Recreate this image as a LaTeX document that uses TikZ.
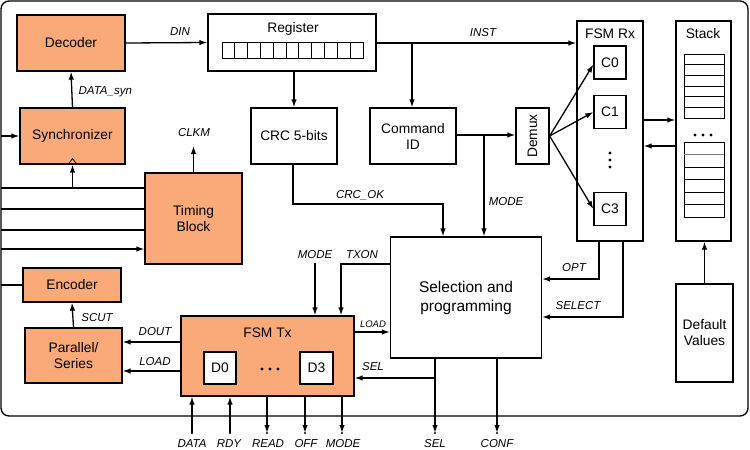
\documentclass[tikz,border=0pt]{standalone}
\usepackage{fontspec}
\setmainfont{Liberation Sans}
\usetikzlibrary{arrows.meta,calc}
\definecolor{orng}{RGB}{249,170,120}
\begin{document}
\begin{tikzpicture}[x=1pt,y=-1pt, line width=1.3pt,
  box/.style={draw, rectangle, inner sep=0pt, align=center, font=\fontsize{13.8}{16}\selectfont},
  obox/.style={box, fill=orng},
  wbox/.style={box, fill=white},
  ttl/.style={inner sep=0pt, font=\fontsize{13.8}{16}\selectfont},
  lbl/.style={font=\fontsize{11.5}{12}\selectfont\itshape, inner sep=0pt},
  slbl/.style={font=\fontsize{9.5}{10}\selectfont\itshape, inner sep=0pt},
  arr/.style={-{Latex[length=8pt,width=5.5pt]}},
  cell/.style={line width=1pt}
]
\useasboundingbox (0,0) rectangle (750,450);
% outer frame
\draw[rounded corners=8pt] (1,1) rectangle (748,416);

% ---------- nodes ----------
\node[obox, minimum width=108, minimum height=56] (dec) at (71,43) {Decoder};
\node[obox, minimum width=105, minimum height=56] (sync) at (72.5,136) {Synchronizer};
\node[obox, minimum width=97, minimum height=91] (timing) at (193.5,218.5) {Timing\\Block};
\node[obox, minimum width=98, minimum height=34] (enc) at (72,285) {Encoder};
\node[obox, minimum width=97, minimum height=55] (par) at (73.5,355.5) {Parallel/\\Series};
\node[obox, minimum width=173, minimum height=80] (fsmtx) at (267.5,356) {};
\node[ttl] (fsmtxt) at (267.5,333) {FSM Tx};
\node[wbox, minimum width=32, minimum height=32] (d0) at (220,368) {D0};
\node[wbox, minimum width=33, minimum height=32] (d3) at (316.5,368) {D3};
\foreach \xx in {262,270,278} \fill (\xx,369) circle (1.7);

\node[box, minimum width=168, minimum height=57] (reg) at (292,42.5) {};
\node[ttl] (regt) at (293,28.5) {Register};
\foreach \i in {0,...,10} \draw[cell] (222+\i*12.82,42) rectangle ++(12.82,16);

\node[box, minimum width=86, minimum height=56] (crc) at (294,136) {CRC 5-bits};
\node[box, minimum width=86, minimum height=56] (cmd) at (413,136) {Command\\ID};
\node[box, minimum width=33, minimum height=56] (demux) at (532.5,136) {};
\node[ttl, rotate=90] (demuxt) at (demux.center) {Demux};

\node[box, minimum width=66, minimum height=220] (fsmrx) at (610,131) {};
\node[ttl] (fsmrxt) at (610,33.5) {FSM Rx};
\node[box, minimum width=32, minimum height=33] (c0) at (610,62.5) {C0};
\node[box, minimum width=32, minimum height=33] (c1) at (610,112) {C1};
\node[box, minimum width=32, minimum height=33] (c3) at (610,209) {C3};
\foreach \yy in {153,160,167} \fill (610,\yy) circle (1.7);

\node[box, minimum width=55, minimum height=220] (stack) at (703.5,131) {};
\node[ttl] (stackt) at (703,33.5) {Stack};
\foreach \i in {0,...,5} \draw[cell] (684,54+\i*10.67) rectangle ++(40,10.67);
\foreach \xx in {695,703,711} \fill (\xx,135) circle (1.6);
\draw[cell] (684,142) rectangle (724,217);
\draw[line width=0.6pt, gray] (684,154.5) -- (724,154.5);
\foreach \i in {2,...,5} \draw[cell] (684,142+\i*12.5) -- (724,142+\i*12.5);

\node[box, minimum width=57, minimum height=98] (defv) at (704.5,333) {Default\\Values};
\node[box, minimum width=151, minimum height=121, font=\fontsize{15.5}{19}\selectfont] (sel) at (466,297.5) {Selection and\\programming};

% ---------- free-end coordinates ----------
\coordinate (insync) at (1,136);
\coordinate (t1) at (1,188);
\coordinate (t2) at (1,209);
\coordinate (t3) at (1,230);
\coordinate (t4) at (1,249);
\coordinate (br1) at (72.5,188);
\coordinate (clkm) at (193.5,146);
\coordinate (inenc) at (1,285);
\coordinate (modein) at (315,263);
\coordinate (txon) at (341,264);
\coordinate (selbr) at (435,378);
\coordinate (selend) at (435,433);
\coordinate (confend) at (497,433);
\coordinate (dataend) at (192,433);
\coordinate (rdyend) at (230,433);
\coordinate (readend) at (267,433);
\coordinate (offend) at (305,433);
\coordinate (modeend) at (342,433);
\coordinate (instbr) at (412,43);
\coordinate (crcc1) at (293,204);
\coordinate (crcc2) at (443,204);
\coordinate (modebr) at (484,135);
\coordinate (optc) at (599,279);
\coordinate (selectc) at (623,317);

% ---------- connectors ----------
\draw[arr] (dec.east) -- (reg.west);
\node[lbl] (dinl) at (180,32) {DIN};
\draw[arr] (sync.north) -- (dec.south);
\node[lbl, anchor=west] (dsynl) at (78,92) {DATA\_syn};
\draw[arr] (insync) -- (sync.west);
\draw (t1) -- (t1 -| timing.west);
\draw (t2) -- (t2 -| timing.west);
\draw (t3) -- (t3 -| timing.west);
\draw[arr] (t4) -- (t4 -| timing.west);
\draw[arr] (br1) -- (sync.south);
\draw[line width=0.8pt] (68.5,164) -- (72.5,158.5) -- (76.5,164);
\draw[arr] (timing.north) -- (clkm);
\node[lbl] (clkml) at (194,133) {CLKM};

\draw (inenc) -- (enc.west);
\draw[arr] (par.north) -- (enc.south);
\node[lbl] (scutl) at (97,318) {SCUT};
\draw[arr] (fsmtx.west |- 0,342) -- (par.east |- 0,342);
\node[lbl] (doutl) at (155,332) {DOUT};
\draw[arr] (fsmtx.west |- 0,371) -- (par.east |- 0,371);
\node[lbl] (loadl) at (155,362) {LOAD};

\draw[arr] (modein) -- (modein |- fsmtx.north);
\node[lbl] (model1) at (315,255) {MODE};
\draw[arr] (sel.west |- txon) -- (txon) -- (txon |- fsmtx.north);
\node[lbl] (txonl) at (362,255) {TXON};
\draw[arr] (fsmtx.east |- 0,332) -- (sel.west |- 0,332);
\node[slbl] (load2l) at (373,324) {LOAD};
\draw[arr] (selbr) -- (selbr -| fsmtx.east);
\node[lbl] (sell1) at (373,367) {SEL};
\draw[arr] (sel.south -| selend) -- (selend);
\draw[arr] (sel.south -| confend) -- (confend);
\node[lbl] (sell2) at (435,444) {SEL};
\node[lbl] (confl) at (497,444) {CONF};

\draw[arr] (dataend) -- (dataend |- fsmtx.south);
\draw[arr] (rdyend) -- (rdyend |- fsmtx.south);
\draw[arr] (readend |- fsmtx.south) -- (readend);
\draw[arr] (offend |- fsmtx.south) -- (offend);
\draw[arr] (modeend |- fsmtx.south) -- (modeend);
\foreach \c in {dataend,rdyend,readend,offend,modeend,selend,confend} \fill (\c) circle (1.2);
\node[lbl] (datal) at (192,444) {DATA};
\node[lbl] (rdyl) at (229,444) {RDY};
\node[lbl] (readl) at (268,444) {READ};
\node[lbl] (offl) at (306,444) {OFF};
\node[lbl] (model2) at (343,444) {MODE};

\draw[arr] (reg.south -| crc.north) -- (crc.north);
\draw[arr] (reg.east |- instbr) -- (fsmrx.west |- instbr);
\node[lbl] (instl) at (483,33) {INST};
\draw[arr] (instbr) -- (instbr |- cmd.north);
\draw[arr] (crc.south -| crcc1) -- (crcc1) -- (crcc2) -- (crcc2 |- sel.north);
\node[lbl] (crcokl) at (360,195) {CRC\_OK};
\draw[arr] (cmd.east |- modebr) -- (demux.west |- modebr);
\draw[arr] (modebr) -- (modebr |- sel.north);
\node[lbl] (model3) at (506,202) {MODE};

\draw[arr] (demux.east) -- ($(c0.west)+(0,2)$);
\draw[arr] (demux.east) -- (c1.west);
\draw[arr] (demux.east) -- (c3.west);
\draw[arr] (fsmrx.east |- 0,120) -- (stack.west |- 0,120);
\draw[arr] (stack.west |- 0,146) -- (fsmrx.east |- 0,146);
\draw[arr] (defv.north) -- (stack.south -| defv.north);

\draw[arr] (fsmrx.south -| optc) -- (optc) -- (optc -| sel.east);
\node[lbl] (optl) at (574,268) {OPT};
\draw[arr] (fsmrx.south -| selectc) -- (selectc) -- (selectc -| sel.east);
\node[lbl] (selectl) at (578,306) {SELECT};
\end{tikzpicture}
\end{document}
